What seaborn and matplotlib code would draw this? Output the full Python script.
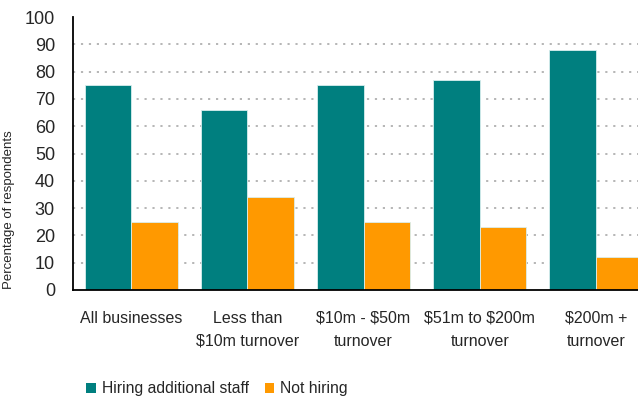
import matplotlib
matplotlib.use("Agg")
import matplotlib.pyplot as plt
from matplotlib.patches import Patch
import seaborn as sns
import pandas as pd
import numpy as np

categories = ["All businesses", "Less than\n\\$10m turnover", "\\$10m - \\$50m\nturnover",
              "\\$51m to \\$200m\nturnover", "\\$200m +\nturnover"]
series_names = ["Hiring additional staff", "Not hiring"]
hiring = [75, 66, 75, 77, 88]
not_hiring = [25, 34, 25, 23, 12]
y_ticks = [0, 10, 20, 30, 40, 50, 60, 70, 80, 90, 100]
colors = ["#007F7F", "#FF9900"]

df = pd.DataFrame({
    "category": categories * 2,
    "series": [series_names[0]] * len(categories) + [series_names[1]] * len(categories),
    "value": hiring + not_hiring,
})

sns.set_theme(style="white")
plt.rcParams["font.family"] = ["Liberation Sans", "DejaVu Sans"]

fig = plt.figure(figsize=(6.38, 4.01), dpi=100)
ax = fig.add_axes([73 / 638, 1 - 290 / 401, 581 / 638, 273 / 401])

sns.barplot(data=df, x="category", y="value", hue="series", palette=colors,
            order=categories, hue_order=series_names, ax=ax, saturation=1,
            edgecolor="#d8eeee", linewidth=0.6, legend=False, width=0.8)

ax.set_xlim(-0.5, len(categories) - 0.5)
ax.set_ylim(0, 100)
ax.set_yticks(y_ticks)
ax.set_yticklabels([str(t) for t in y_ticks], fontsize=13)
for t in y_ticks[1:-1]:
    ax.axhline(t, color="#b0b0b0", linestyle=(0, (1.2, 3.2)), linewidth=1.3, zorder=0)

ax.set_xlabel("")
ax.set_ylabel("Percentage of respondents", fontsize=9.5)
ax.yaxis.set_label_coords((15 - 73) / 581, (290 - 210) / 273)
ax.set_xticks(range(len(categories)))
ax.set_xticklabels(categories, fontsize=11.5, linespacing=1.65)
ax.tick_params(axis="x", which="major", length=0, pad=15)
ax.set_xticks(np.arange(0.5, len(categories) - 0.5, 1), minor=True)
ax.tick_params(axis="x", which="minor", direction="in", length=4, width=1.2, color="black")
ax.tick_params(axis="y", which="major", direction="in", length=5, width=1.2, color="black", pad=13)

for side in ["top", "right"]:
    ax.spines[side].set_visible(False)
for side in ["left", "bottom"]:
    ax.spines[side].set_color("black")
    ax.spines[side].set_linewidth(1.3)

handles = [Patch(facecolor=c, edgecolor="none") for c in colors]
fig.legend(handles, series_names, loc="center left", bbox_to_anchor=(72 / 638, 1 - 389 / 401),
           ncol=2, frameon=False, fontsize=11.3, handlelength=0.6, handleheight=0.6,
           handletextpad=0.4, columnspacing=1.0)

fig.savefig("out.png", dpi=100)
